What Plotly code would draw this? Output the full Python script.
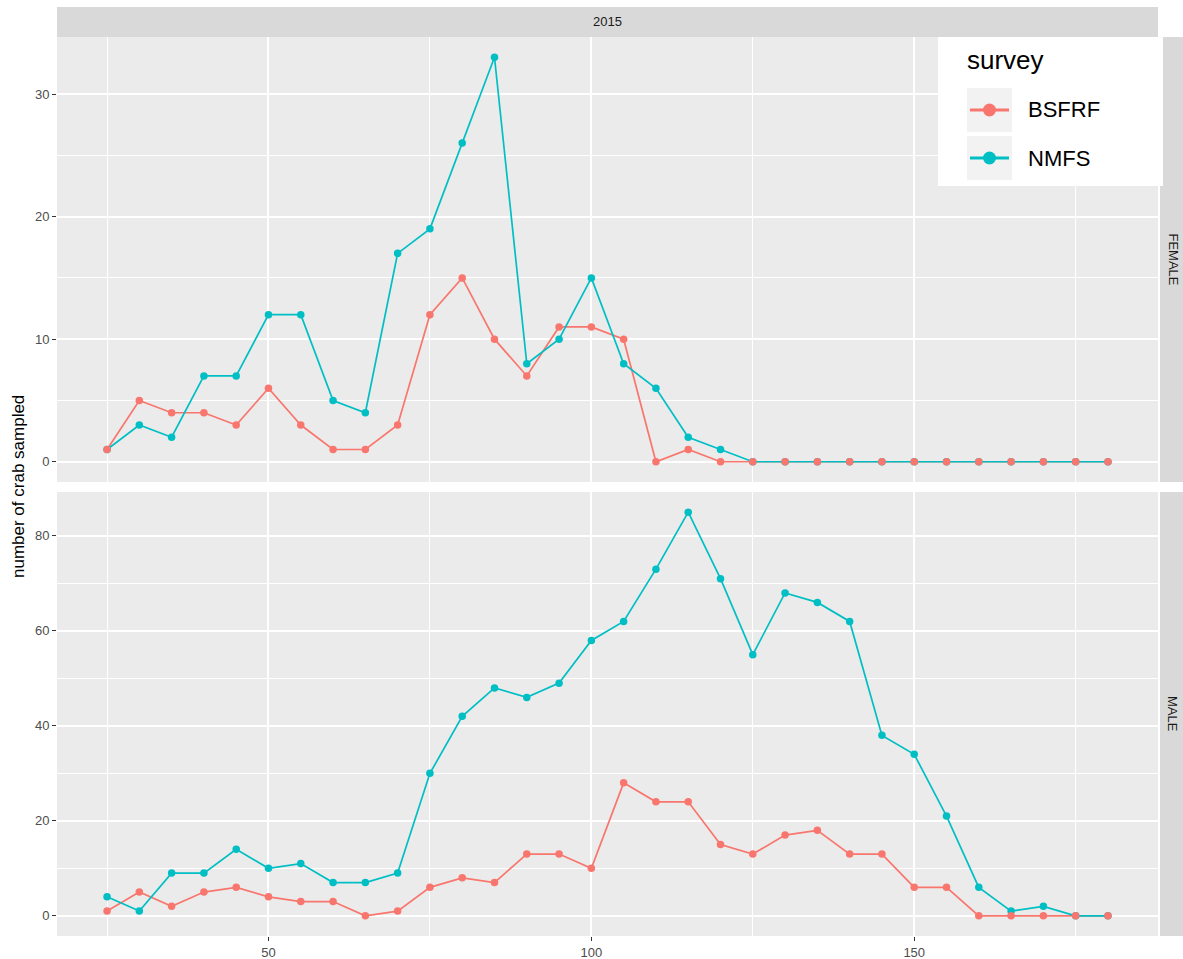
import plotly.graph_objects as go

# Carapace size bins (mm)
size_bins = list(range(25, 185, 5))

# Counts of crab sampled per size bin, 2015
female_bsfrf = [1, 5, 4, 4, 3, 6, 3, 1, 1, 3, 12, 15, 10, 7, 11, 11, 10, 0, 1, 0,
                0, 0, 0, 0, 0, 0, 0, 0, 0, 0, 0, 0]
female_nmfs = [1, 3, 2, 7, 7, 12, 12, 5, 4, 17, 19, 26, 33, 8, 10, 15, 8, 6, 2, 1,
               0, 0, 0, 0, 0, 0, 0, 0, 0, 0, 0, 0]
male_bsfrf = [1, 5, 2, 5, 6, 4, 3, 3, 0, 1, 6, 8, 7, 13, 13, 10, 28, 24, 24, 15,
              13, 17, 18, 13, 13, 6, 6, 0, 0, 0, 0, 0]
male_nmfs = [4, 1, 9, 9, 14, 10, 11, 7, 7, 9, 30, 42, 48, 46, 49, 58, 62, 73, 85, 71,
             55, 68, 66, 62, 38, 34, 21, 6, 1, 2, 0, 0]

surveys = ["BSFRF", "NMFS"]
colors = {"BSFRF": "#F8766D", "NMFS": "#00BFC4"}
year_label = "2015"
sex_labels = ["FEMALE", "MALE"]
y_title = "number of crab sampled"

W, H = 1183, 959
FONT = "Liberation Sans, Arial"


def px(x):
    return x / W


def py(y):
    return 1 - y / H


panels = [
    ("x", "y", {"BSFRF": female_bsfrf, "NMFS": female_nmfs}),
    ("x2", "y2", {"BSFRF": male_bsfrf, "NMFS": male_nmfs}),
]

fig = go.Figure()

# lines first, then points (teal points under salmon points)
for xa, ya, data in panels:
    for s in surveys:
        fig.add_trace(go.Scatter(x=size_bins, y=data[s], mode="lines", xaxis=xa, yaxis=ya,
                                 line=dict(color=colors[s], width=1.7), showlegend=False,
                                 hoverinfo="skip"))
for xa, ya, data in panels:
    for s in ["NMFS", "BSFRF"]:
        fig.add_trace(go.Scatter(x=size_bins, y=data[s], mode="markers", xaxis=xa, yaxis=ya,
                                 marker=dict(color=colors[s], size=7.5), showlegend=False,
                                 name=s))

x_left, x_right = 57, 1158
top_panel = (37, 482)
bot_panel = (492, 936)

tick_font = dict(family=FONT, size=13, color="#4D4D4D")

common_x = dict(range=[17.25, 187.75], showgrid=True, gridcolor="white", gridwidth=2,
                tickvals=[50, 100, 150], zeroline=False, showline=False,
                minor=dict(tickvals=[25, 75, 125, 175], showgrid=True, gridcolor="white",
                           gridwidth=1, ticks=""),
                domain=[px(x_left), px(x_right)])
common_y = dict(showgrid=True, gridcolor="white", gridwidth=2, zeroline=False, showline=False,
                ticks="outside", ticklen=4, tickwidth=1.2, tickcolor="#333333",
                tickfont=tick_font)

fig.update_layout(
    width=W, height=H,
    margin=dict(l=0, r=0, t=0, b=0),
    paper_bgcolor="white",
    plot_bgcolor="#EBEBEB",
    xaxis=dict(**common_x, anchor="y", showticklabels=False, ticks=""),
    xaxis2=dict(**common_x, anchor="y2", ticks="outside", ticklen=4, tickwidth=1.2,
                tickcolor="#333333", tickfont=tick_font),
    yaxis=dict(**common_y, anchor="x", range=[-1.65, 34.65], tickvals=[0, 10, 20, 30],
               minor=dict(tickvals=[5, 15, 25], showgrid=True, gridcolor="white",
                          gridwidth=1, ticks=""),
               domain=[py(top_panel[1]), py(top_panel[0])]),
    yaxis2=dict(**common_y, anchor="x2", range=[-4.25, 89.25], tickvals=[0, 20, 40, 60, 80],
                minor=dict(tickvals=[10, 30, 50, 70], showgrid=True, gridcolor="white",
                           gridwidth=1, ticks=""),
                domain=[py(bot_panel[1]), py(bot_panel[0])]),
    font=dict(family=FONT),
)

shapes = []
annotations = []


def label(text, x, y, size, color="black", angle=0, xanchor="center"):
    annotations.append(dict(text=text, xref="paper", yref="paper", x=px(x), y=py(y),
                            xanchor=xanchor, yanchor="middle", showarrow=False,
                            textangle=angle, font=dict(family=FONT, size=size, color=color)))


# facet strips
strip_fill = "#D9D9D9"
shapes.append(dict(type="rect", xref="paper", yref="paper", x0=px(x_left), x1=px(x_right),
                   y0=py(37), y1=py(7), fillcolor=strip_fill, line=dict(width=0)))
label(year_label, (x_left + x_right) / 2, 22, 13, "#1A1A1A")
for (t, b), lab in zip([top_panel, bot_panel], sex_labels):
    shapes.append(dict(type="rect", xref="paper", yref="paper", x0=px(1160), x1=px(1190),
                       y0=py(b), y1=py(t), fillcolor=strip_fill, line=dict(width=0)))
    label(lab, 1173, (t + b) / 2, 13, "#1A1A1A", angle=90)

# y-axis title
label(y_title, 18, 487, 17, angle=-90)

# legend box
shapes.append(dict(type="rect", xref="paper", yref="paper", x0=px(938), x1=px(1163),
                   y0=py(186), y1=py(37), fillcolor="white", line=dict(width=0), layer="above"))
label("survey", 965, 60, 26, xanchor="left")
for i, s in enumerate(surveys):
    top = 88 + i * 48
    cy = top + 22
    shapes.append(dict(type="rect", xref="paper", yref="paper", x0=px(967), x1=px(1012),
                       y0=py(top + 44), y1=py(top), fillcolor="#F2F2F2", line=dict(width=0),
                       layer="above"))
    shapes.append(dict(type="line", xref="paper", yref="paper", x0=px(970), x1=px(1009),
                       y0=py(cy), y1=py(cy), line=dict(color=colors[s], width=3), layer="above"))
    shapes.append(dict(type="circle", xref="paper", yref="paper", x0=px(983), x1=px(996),
                       y0=py(cy + 6.5), y1=py(cy - 6.5), fillcolor=colors[s],
                       line=dict(width=0), layer="above"))
    label(s, 1026, cy, 22, xanchor="left")

fig.update_layout(shapes=shapes, annotations=annotations)

fig.write_html("out.html")
